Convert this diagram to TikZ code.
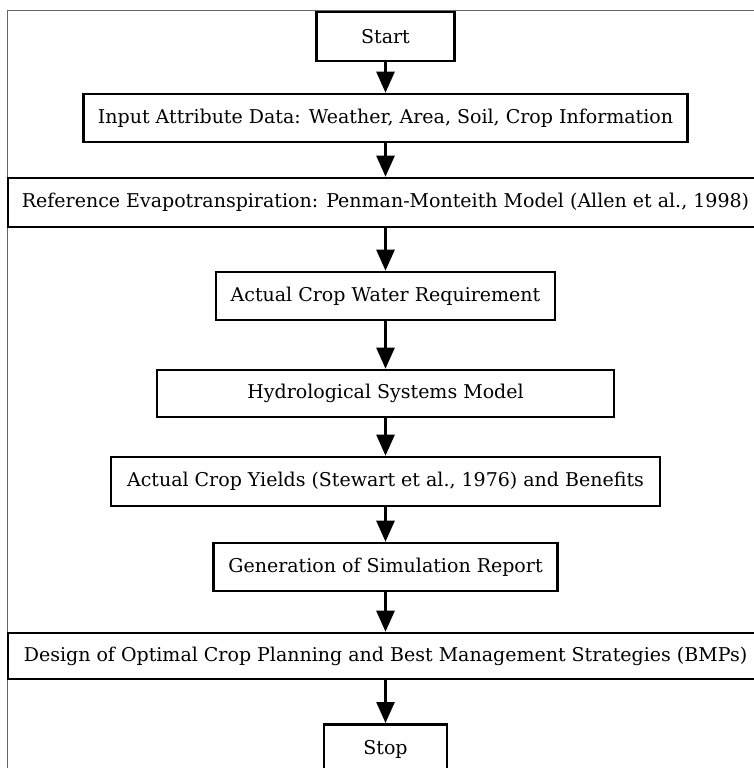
\documentclass[tikz,border=0pt]{standalone}
\usepackage{fontspec}
\setmainfont{DejaVu Serif}
\usetikzlibrary{arrows.meta}
\tikzset{
  flowbox/.style={draw=black, line width=2.6pt, fill=white, inner sep=0pt, align=center,
    font=\fontsize{19}{22}\selectfont},
  flowarrow/.style={line width=2.6pt, -{Triangle[length=21pt,width=18pt]}},
  frameline/.style={draw=black!60, line width=1pt},
}
\newcommand{\flowstep}[5]{% name, width, y1, y2, text
  \node[flowbox, minimum width={#2*1pt}, minimum height={(#4-#3)*1pt}] (#1) at (385.5, {-(#3+#4)/2}) {#5};}
\begin{document}
\begin{tikzpicture}[x=1pt, y=1pt]
  \clip (0,0) rectangle (754,-768);
  \fill[white] (0,0) rectangle (754,-768);
  \draw[frameline] (7,-11) rectangle (772,-790);
  \flowstep{start}{138}{12}{61}{Start}
  \flowstep{input}{604}{94}{142}{Input Attribute Data: Weather, Area, Soil, Crop Information}
  \flowstep{ref}{755}{178}{227}{Reference Evapotranspiration: Penman-Monteith Model (Allen et al., 1998)}
  \flowstep{acw}{339}{272}{320}{Actual Crop Water Requirement}
  \flowstep{hydro}{457}{370}{417}{Hydrological Systems Model}
  \flowstep{yield}{549}{457}{506}{Actual Crop Yields (Stewart et al., 1976) and Benefits}
  \flowstep{gen}{344}{543}{591}{Generation of Simulation Report}
  \flowstep{design}{755}{633}{679}{Design of Optimal Crop Planning and Best Management Strategies (BMPs)}
  \node[flowbox, minimum width=123pt, minimum height=57pt, anchor=north] (stop) at (385.5,-723) {\raisebox{10pt}{Stop}};
  \draw[flowarrow] (start.south) -- (input.north);
  \draw[flowarrow] (input.south) -- (ref.north);
  \draw[flowarrow] (ref.south) -- (acw.north);
  \draw[flowarrow] (acw.south) -- (hydro.north);
  \draw[flowarrow] (hydro.south) -- (yield.north);
  \draw[flowarrow] (yield.south) -- (gen.north);
  \draw[flowarrow] (gen.south) -- (design.north);
  \draw[flowarrow] (design.south) -- (stop.north);
\end{tikzpicture}
\end{document}
